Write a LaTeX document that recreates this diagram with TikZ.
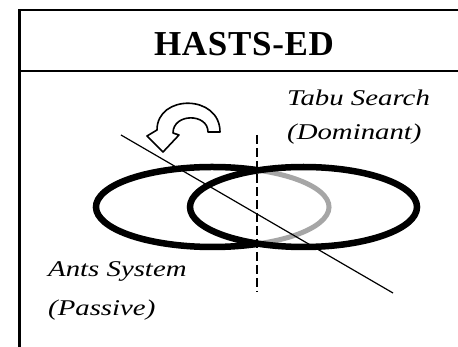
\documentclass[tikz,border=0pt]{standalone}
\usepackage{fontspec}
\setmainfont{Liberation Serif}
\newfontfamily\labfont[FakeStretch=1.28]{Liberation Serif}
\begin{document}
\begin{tikzpicture}[x=1pt,y=-1pt,
  frame/.style={line width=2.8pt, line cap=rect},
  sepline/.style={line width=2.4pt},
  ring/.style={line width=6.5pt},
  shaded/.style={line width=5pt, draw=black!35},
  axis/.style={line width=1.5pt, dash pattern=on 9pt off 4pt},
  cut/.style={line width=1.2pt},
  lab/.style={font=\labfont\itshape\fontsize{22.5}{26}\selectfont, inner sep=0pt, anchor=base west},
  title/.style={font=\bfseries\fontsize{35}{40}\selectfont, inner sep=0pt}
]
\useasboundingbox (0,0) rectangle (458,347);
\clip (0,0) rectangle (458,347);
\fill[white] (0,0) rectangle (458,347);
% frame
\draw[frame] (470,10) -- (19.3,10) -- (19.3,360);
\draw[sepline] (19.3,71.3) -- (470,71.3);
\node[title] (ttl) at (244,44) {\addfontfeature{LetterSpace=2}HASTS-ED};
% ellipses
\draw[ring] (212.5,207) ++(67.5:116.5pt and 40pt) arc[start angle=67.5, end angle=292.5, x radius=116.5pt, y radius=40pt];
\draw[shaded] (212.5,207) ++(-67.5:116.5pt and 40pt) arc[start angle=-67.5, end angle=67.5, x radius=116.5pt, y radius=40pt];
\draw[ring] (303.5,207) ellipse [x radius=113.5pt, y radius=40pt];
% dashed axis and cut line
\coordinate (dtop) at (257,135);
\coordinate (dbot) at (257,292);
\draw[axis] (dtop) -- (dbot);
\coordinate (cs) at (121,135);
\coordinate (ce) at (393,293);
\draw[cut] (cs) -- (ce);
% curved arrow
\draw[line width=1.6pt, line join=round, fill=white]
  (220,132) .. controls (220,94) and (157,94) .. (157,130)
  -- (147,136) -- (163,152) -- (179,135) -- (173,133)
  .. controls (173,113) and (208,113) .. (208,132) -- cycle;
% labels
\node[lab] (tabu) at (287,106) {Tabu Search};
\node[lab] (dom) at (287,140) {(Dominant)};
\node[lab] (ants) at (48,277) {Ants System};
\node[lab] (pass) at (48,316) {(Passive)};
\end{tikzpicture}
\end{document}
